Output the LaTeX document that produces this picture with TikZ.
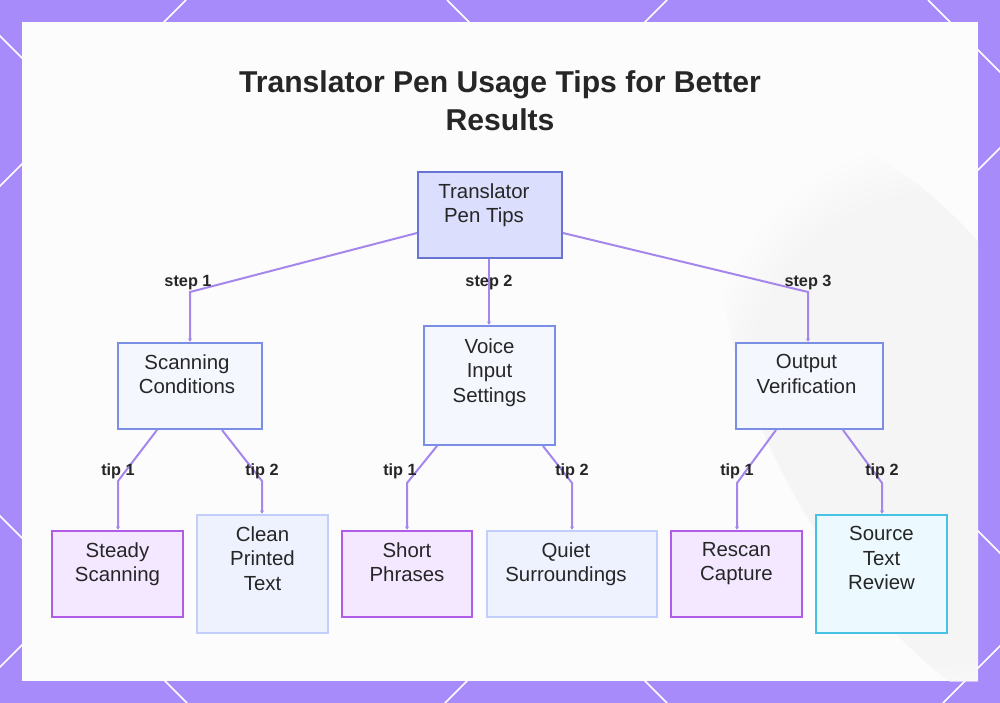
\documentclass[tikz,border=0pt]{standalone}
\usepackage{fontspec}
\setmainfont{Liberation Sans}
\usetikzlibrary{calc,arrows.meta,fadings}
\definecolor{bgpurple}{RGB}{167,139,250}
\definecolor{connc}{RGB}{165,135,235}
\definecolor{txtc}{RGB}{38,38,38}
\definecolor{rootfill}{RGB}{219,222,252}
\definecolor{rootdraw}{RGB}{104,116,212}
\definecolor{midfill}{RGB}{245,247,255}
\definecolor{middraw}{RGB}{122,142,230}
\definecolor{purfill}{RGB}{243,232,255}
\definecolor{purdraw}{RGB}{176,92,230}
\definecolor{bluefill}{RGB}{238,242,255}
\definecolor{bluedraw}{RGB}{196,206,250}
\definecolor{cyanfill}{RGB}{236,249,255}
\definecolor{cyandraw}{RGB}{72,194,226}
\tikzset{
  boxbase/.style={draw, line width=1.5pt, inner sep=0pt, rectangle},
  rootbox/.style={boxbase, fill=rootfill, draw=rootdraw},
  midbox/.style={boxbase, fill=midfill, draw=middraw},
  purbox/.style={boxbase, fill=purfill, draw=purdraw},
  bluebox/.style={boxbase, fill=bluefill, draw=bluedraw},
  cyanbox/.style={boxbase, fill=cyanfill, draw=cyandraw},
  boxtext/.style={anchor=north, inner sep=0pt, align=center, text=txtc,
    font=\fontsize{15.3pt}{18.4pt}\selectfont},
  edgelabel/.style={inner sep=0pt, text=txtc, font=\fontsize{12.2pt}{14pt}\selectfont\bfseries},
  conn/.style={draw=connc, line width=1.5pt, -{Latex[length=2.5pt,width=3.2pt]}},
}
\begin{document}
\begin{tikzpicture}[x=0.75pt,y=-0.75pt]
\useasboundingbox (0,0) rectangle (1000,703);
% background
\fill[bgpurple] (0,0) rectangle (1000,703);
\begin{scope}
\clip (0,0) rectangle (1000,703);
\foreach \c in {186,667,1148,1646} \draw[white, line width=1.1pt] (\c,0) -- (\c-703,703);
\foreach \c in {-516,-36,447,928} \draw[white, line width=1.1pt] (\c,0) -- (\c+703,703);
\end{scope}
\fill[white!99!black] (22,22) rectangle (978,681);
\begin{scope}
\clip (22,22) rectangle (978,681);
\fill[black!4, path fading=circle with fuzzy edge 20 percent, rotate around={-60:(930,430)}] (930,430) ellipse (330 and 150);
\end{scope}

% title
\node[anchor=north, align=center, inner sep=0pt, text=txtc,
  font=\fontsize{22.6pt}{28.5pt}\selectfont\bfseries] (title) at (500,70)
  {Translator Pen Usage Tips for Better\\Results};

% boxes
\node[rootbox, minimum width=108pt, minimum height=64.5pt] (root) at (490,215) {};
\node[midbox, minimum width=108pt, minimum height=64.5pt] (scan) at (190,386) {};
\node[midbox, minimum width=98.25pt, minimum height=89.25pt] (voice) at (489.5,385.5) {};
\node[midbox, minimum width=110.25pt, minimum height=64.5pt] (output) at (809.5,386) {};
\node[purbox, minimum width=98.25pt, minimum height=64.5pt] (steady) at (117.5,574) {};
\node[bluebox, minimum width=98.25pt, minimum height=88.5pt] (clean) at (262.5,574) {};
\node[purbox, minimum width=97.5pt, minimum height=64.5pt] (short) at (407,574) {};
\node[bluebox, minimum width=127.5pt, minimum height=64.5pt] (quiet) at (572,574) {};
\node[purbox, minimum width=98.25pt, minimum height=64.5pt] (rescan) at (736.5,574) {};
\node[cyanbox, minimum width=98.25pt, minimum height=88.5pt] (source) at (881.5,574) {};

% box texts
\node[boxtext] (troot) at ($(root.north)+(-6,12)$) {Translator\\Pen Tips};
\node[boxtext] (tscan) at ($(scan.north)+(-3,12)$) {Scanning\\Conditions};
\node[boxtext] (tvoice) at ($(voice.north)+(0,13)$) {Voice\\Input\\Settings};
\node[boxtext] (toutput) at ($(output.north)+(-3,12)$) {Output\\Verification};
\node[boxtext] (tsteady) at ($(steady.north)+(0,12)$) {Steady\\Scanning};
\node[boxtext] (tclean) at ($(clean.north)+(0,12)$) {Clean\\Printed\\Text};
\node[boxtext] (tshort) at ($(short.north)+(0,12)$) {Short\\Phrases};
\node[boxtext] (tquiet) at ($(quiet.north)+(-6,12)$) {Quiet\\Surroundings};
\node[boxtext] (trescan) at ($(rescan.north)+(0,12)$) {Rescan\\Capture};
\node[boxtext] (tsource) at ($(source.north)+(0,12)$) {Source\\Text\\Review};

% bend points
\coordinate (b1) at (190,292);
\coordinate (b3) at (808,292);
\coordinate (c11) at (118,481);
\coordinate (c12) at (262,481);
\coordinate (c21) at (407,483);
\coordinate (c22) at (572,483);
\coordinate (c31) at (737,483);
\coordinate (c32) at (882,483);

% connectors
\draw[conn] ($(root.west)+(0,18)$) -- (b1) -- (b1 |- scan.north);
\draw[conn] (root.south -| 489,0) -- (489,0 |- voice.north);
\draw[conn] ($(root.east)+(0,18)$) -- (b3) -- (b3 |- output.north);
\draw[conn] (scan.south -| 157,0) -- (c11) -- (c11 |- steady.north);
\draw[conn] (scan.south -| 222,0) -- (c12) -- (c12 |- clean.north);
\draw[conn] (voice.south -| 437,0) -- (c21) -- (c21 |- short.north);
\draw[conn] (voice.south -| 543,0) -- (c22) -- (c22 |- quiet.north);
\draw[conn] (output.south -| 776,0) -- (c31) -- (c31 |- rescan.north);
\draw[conn] (output.south -| 843,0) -- (c32) -- (c32 |- source.north);

% labels
\node[edgelabel] (l1) at (188,283) {step 1};
\node[edgelabel] (l2) at (489,283) {step 2};
\node[edgelabel] (l3) at (808,283) {step 3};
\node[edgelabel] (l11) at (118,471) {tip 1};
\node[edgelabel] (l12) at (262,471) {tip 2};
\node[edgelabel] (l21) at (400,471) {tip 1};
\node[edgelabel] (l22) at (572,471) {tip 2};
\node[edgelabel] (l31) at (737,471) {tip 1};
\node[edgelabel] (l32) at (882,471) {tip 2};
\end{tikzpicture}
\end{document}
